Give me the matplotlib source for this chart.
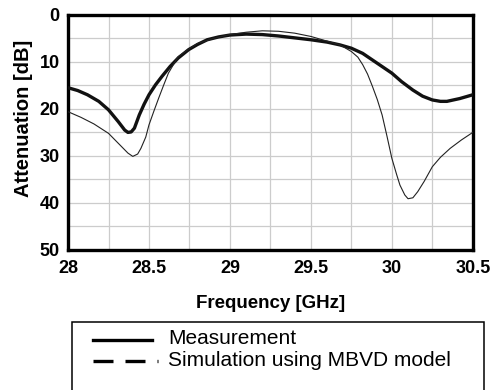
import matplotlib
matplotlib.use('Agg')
import matplotlib.pyplot as plt
from matplotlib.lines import Line2D
from matplotlib.patches import Rectangle

plt.rcParams['font.family'] = ['Liberation Sans', 'DejaVu Sans']

# measurement (thick line)
f_meas = [28.00, 28.06, 28.12, 28.19, 28.25, 28.31, 28.35, 28.37, 28.39, 28.41, 28.44,
          28.47, 28.50, 28.54, 28.58, 28.63, 28.68, 28.745, 28.80, 28.86, 28.93, 29.00,
          29.10, 29.20, 29.30, 29.40, 29.50, 29.60, 29.68, 29.75, 29.82, 29.88, 29.94,
          30.00, 30.06, 30.13, 30.19, 30.25, 30.30, 30.34, 30.42, 30.50]
a_meas = [15.5, 16.1, 17.0, 18.4, 20.2, 22.7, 24.5, 25.0, 24.9, 24.1, 21.3,
          19.0, 17.0, 14.9, 13.1, 11.0, 9.2, 7.4, 6.3, 5.3, 4.7, 4.3,
          4.1, 4.2, 4.5, 4.9, 5.3, 5.8, 6.4, 7.1, 8.2, 9.6, 11.0,
          12.4, 14.2, 16.0, 17.3, 18.1, 18.4, 18.4, 17.8, 17.0]

# simulation (thin line)
f_sim = [28.00, 28.08, 28.16, 28.25, 28.33, 28.37, 28.40, 28.43, 28.45, 28.48, 28.50,
         28.53, 28.56, 28.59, 28.62, 28.68, 28.745, 28.80, 28.90, 29.00, 29.10, 29.20,
         29.30, 29.40, 29.50, 29.60, 29.68, 29.75, 29.79, 29.82, 29.85, 29.88, 29.91,
         29.94, 29.97, 30.00, 30.03, 30.05, 30.08, 30.10, 30.13, 30.16, 30.20, 30.25,
         30.30, 30.36, 30.43, 30.50]
a_sim = [20.6, 21.8, 23.2, 25.2, 28.0, 29.4, 30.1, 29.6, 28.4, 26.0, 23.4,
         20.5, 17.7, 15.0, 12.4, 8.9, 7.3, 6.1, 5.0, 4.2, 3.7, 3.4,
         3.5, 3.9, 4.6, 5.6, 6.4, 7.8, 9.0, 10.6, 12.6, 15.2, 18.0,
         21.3, 25.8, 30.5, 34.0, 36.2, 38.3, 39.1, 38.9, 37.6, 35.4, 32.3,
         30.3, 28.4, 26.6, 25.0]

xticks = [28, 28.5, 29, 29.5, 30, 30.5]
xtick_labels = ['28', '28.5', '29', '29.5', '30', '30.5']
yticks = [0, 10, 20, 30, 40, 50]
legend_labels = ['Measurement', 'Simulation using MBVD model']

fig = plt.figure(figsize=(4.93, 3.90), dpi=100)
ax = fig.add_axes([0.138, 0.359, 0.821, 0.603])

ax.plot(f_meas, a_meas, color='#111111', lw=2.4, solid_capstyle='round', zorder=3)
ax.plot(f_sim, a_sim, color='#222222', lw=0.8, zorder=3)

ax.set_xlim(28, 30.5)
ax.set_ylim(50, 0)
ax.set_xticks(xticks)
ax.set_xticklabels(xtick_labels)
ax.set_yticks(yticks)
ax.set_xticks([28 + 0.25 * i for i in range(11)], minor=True)
ax.set_yticks([5 * i for i in range(11)], minor=True)
ax.grid(True, which='minor', color='#cccccc', lw=0.9)
ax.grid(True, which='major', color='#cccccc', lw=0.9)
ax.set_axisbelow(True)
ax.tick_params(which='both', length=0)
ax.tick_params(axis='x', pad=7)
ax.tick_params(axis='y', pad=6)
for lab in ax.get_xticklabels() + ax.get_yticklabels():
    lab.set_fontweight('bold')
    lab.set_fontsize(13)
for sp in ax.spines.values():
    sp.set_linewidth(2.4)
    sp.set_color('black')

ax.set_xlabel('Frequency [GHz]', fontsize=13.5, fontweight='bold')
ax.xaxis.set_label_coords(0.5, -0.19)
ax.set_ylabel('Attenuation [dB]', fontsize=14.5, fontweight='bold')
ax.yaxis.set_label_coords(-0.087, 0.56)

# legend box (bottom edge lies below the figure)
W, H = 493.0, 390.0
fig.patches.append(Rectangle((72 / W, -0.05), (484 - 72) / W, (H - 322) / H + 0.05,
                             transform=fig.transFigure, fill=False, ec='black', lw=1.1))
fig.add_artist(Line2D([93 / W, 152 / W], [1 - 340 / H] * 2, color='black', lw=2.4,
                      transform=fig.transFigure))
fig.add_artist(Line2D([93 / W, 158 / W], [1 - 361 / H] * 2, color='black', lw=2.4,
                      dashes=(6, 3.6, 6, 3.6, 0.3, 10), transform=fig.transFigure))
fig.text(168 / W, 1 - 339 / H, legend_labels[0], fontsize=15, va='center', ha='left')
fig.text(168 / W, 1 - 360 / H, legend_labels[1], fontsize=15, va='center', ha='left')

fig.savefig('out.png', dpi=100)
